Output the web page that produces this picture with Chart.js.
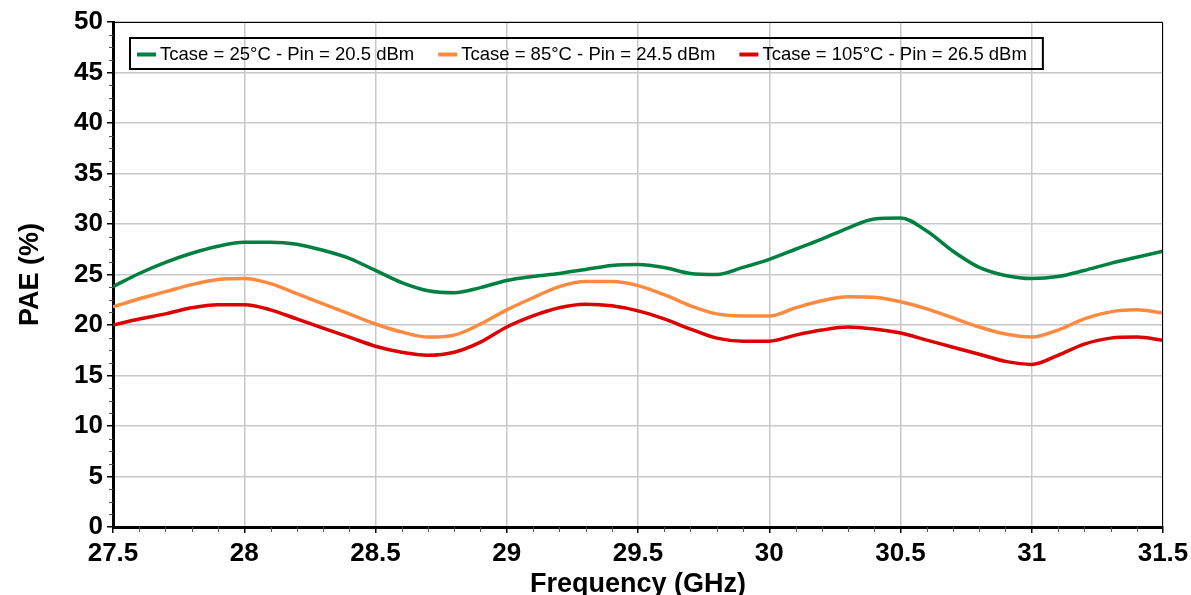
<!DOCTYPE html>
<html>
<head>
<meta charset="utf-8">
<script src="https://cdn.jsdelivr.net/npm/chart.js@4.4.0/dist/chart.umd.min.js"></script>
<style>
  html, body { margin: 0; padding: 0; background: #fff; }
  #wrap { width: 1191px; height: 595px; }
</style>
</head>
<body>
<div id="wrap"><canvas id="paeChart" width="1191" height="595"></canvas></div>
<script>
// frequency points (GHz)
const freqs = [27.5, 27.6, 27.7, 27.8, 27.9, 28.0, 28.1, 28.2, 28.3, 28.4,
  28.5, 28.6, 28.7, 28.8, 28.9, 29.0, 29.1, 29.2, 29.3, 29.4,
  29.5, 29.6, 29.7, 29.8, 29.9, 30.0, 30.1, 30.2, 30.3, 30.4,
  30.5, 30.6, 30.7, 30.8, 30.9, 31.0, 31.1, 31.2, 31.3, 31.4, 31.5];

// PAE (%) per case
const pae25 = [23.8, 25.1, 26.2, 27.1, 27.8, 28.2, 28.2, 28.0, 27.4, 26.6,
  25.4, 24.2, 23.4, 23.2, 23.7, 24.4, 24.8, 25.1, 25.5, 25.9,
  26.0, 25.7, 25.1, 25.0, 25.7, 26.5, 27.5, 28.5, 29.6, 30.5,
  30.6, 29.3, 27.3, 25.7, 24.9, 24.6, 24.8, 25.4, 26.1, 26.7, 27.3];
const pae85 = [21.8, 22.6, 23.3, 24.0, 24.5, 24.6, 24.1, 23.1, 22.1, 21.1,
  20.1, 19.3, 18.8, 19.0, 20.1, 21.5, 22.7, 23.8, 24.3, 24.3,
  23.9, 23.0, 21.9, 21.1, 20.9, 20.9, 21.7, 22.4, 22.8, 22.75,
  22.3, 21.6, 20.7, 19.8, 19.1, 18.8, 19.5, 20.6, 21.3, 21.5, 21.2];
const pae105 = [20.0, 20.6, 21.1, 21.7, 22.0, 22.0, 21.5, 20.6, 19.7, 18.8,
  17.9, 17.3, 17.0, 17.3, 18.3, 19.8, 20.9, 21.7, 22.05, 21.9,
  21.4, 20.6, 19.6, 18.7, 18.4, 18.4, 19.0, 19.5, 19.8, 19.6,
  19.2, 18.5, 17.8, 17.1, 16.4, 16.1, 17.0, 18.1, 18.7, 18.8, 18.5];

const seriesLabels = [
  'Tcase = 25°C - Pin = 20.5 dBm',
  'Tcase = 85°C - Pin = 24.5 dBm',
  'Tcase = 105°C - Pin = 26.5 dBm'
];
const seriesColors = ['#008040', '#ff8a40', '#dc0000'];

const FONT = '"Liberation Sans", Arial, sans-serif';

function toPoints(ys) {
  return freqs.map((f, i) => ({ x: f, y: ys[i] }));
}

// minor ticks, frame and boxed legend inside the plot
const decorPlugin = {
  id: 'decor',
  afterDatasetsDraw(chart) {
    const ctx = chart.ctx;
    const area = chart.chartArea;
    const xs = chart.scales.x;
    const ys = chart.scales.y;
    ctx.save();

    // top and right frame
    ctx.strokeStyle = '#000';
    ctx.lineWidth = 1;
    ctx.beginPath();
    ctx.moveTo(area.left, area.top + 0.5);
    ctx.lineTo(area.right - 0.5, area.top + 0.5);
    ctx.lineTo(area.right - 0.5, area.bottom);
    ctx.stroke();

    // minor ticks
    ctx.strokeStyle = '#555';
    ctx.beginPath();
    for (let i = 0; i <= 40; i++) {
      if (i % 5 === 0) continue;
      const px = Math.round(xs.getPixelForValue(27.5 + i * 0.1)) + 0.5;
      ctx.moveTo(px, area.bottom);
      ctx.lineTo(px, area.bottom + 5);
    }
    for (let i = 0; i <= 40; i++) {
      if (i % 4 === 0) continue;
      const py = Math.round(ys.getPixelForValue(i * 1.25)) + 0.5;
      ctx.moveTo(area.left - 4, py);
      ctx.lineTo(area.left, py);
    }
    ctx.stroke();

    // legend
    ctx.font = '18.5px ' + FONT;
    ctx.textBaseline = 'middle';
    const top = 38, h = 31, cy = top + h / 2 + 1;
    let x = 137;
    seriesLabels.forEach((lab, i) => {
      ctx.strokeStyle = seriesColors[i];
      ctx.lineWidth = 4;
      ctx.beginPath();
      ctx.moveTo(x, cy);
      ctx.lineTo(x + 19, cy);
      ctx.stroke();
      ctx.fillStyle = '#000';
      ctx.fillText(lab, x + 23, cy);
      x += 23 + ctx.measureText(lab).width + (i < seriesLabels.length - 1 ? 24 : 0);
    });
    const boxW = x + 16 - 130;
    ctx.globalCompositeOperation = 'destination-over';
    ctx.fillStyle = '#fff';
    ctx.fillRect(130, top, boxW, h);
    ctx.globalCompositeOperation = 'source-over';
    ctx.strokeStyle = '#000';
    ctx.lineWidth = 2;
    ctx.strokeRect(130, top, boxW, h);
    ctx.restore();
  }
};

const ctx = document.getElementById('paeChart').getContext('2d');
const chart = new Chart(ctx, {
  type: 'line',
  data: {
    datasets: [pae25, pae85, pae105].map((ys, i) => ({
      label: seriesLabels[i],
      data: toPoints(ys),
      borderColor: seriesColors[i],
      backgroundColor: seriesColors[i],
      borderWidth: 3.5,
      pointRadius: 0,
      cubicInterpolationMode: 'monotone',
      fill: false
    }))
  },
  options: {
    responsive: false,
    animation: false,
    layout: { padding: { top: 22, right: 28, left: 0, bottom: 0 } },
    plugins: {
      legend: { display: false },
      tooltip: { enabled: false }
    },
    scales: {
      x: {
        type: 'linear',
        min: 27.5,
        max: 31.5,
        afterFit: s => { s.height = 68; s.paddingRight = 20; s.paddingLeft = 20; },
        ticks: {
          stepSize: 0.5,
          color: '#000',
          padding: 5,
          font: { family: FONT, size: 26, weight: 'bold' },
          callback: v => String(Math.round(v * 10) / 10)
        },
        grid: { color: '#c8c8c8', lineWidth: 1.5, tickLength: 6, tickColor: '#000' },
        border: { color: '#000', width: 3 },
        title: {
          display: true,
          text: 'Frequency (GHz)',
          color: '#000',
          font: { family: FONT, size: 27, weight: 'bold' },
          padding: { top: 0, bottom: -6 }
        }
      },
      y: {
        min: 0,
        max: 50,
        afterFit: s => { s.width = 113; },
        ticks: {
          stepSize: 5,
          color: '#000',
          padding: 4,
          font: { family: FONT, size: 26, weight: 'bold' }
        },
        grid: { color: '#c8c8c8', lineWidth: 1.5, tickLength: 6, tickColor: '#000' },
        border: { color: '#000', width: 3 },
        title: {
          display: true,
          text: 'PAE (%)',
          color: '#000',
          font: { family: FONT, size: 27, weight: 'bold' },
          padding: { top: 14, bottom: 0 }
        }
      }
    }
  },
  plugins: [decorPlugin]
});
</script>
</body>
</html>
